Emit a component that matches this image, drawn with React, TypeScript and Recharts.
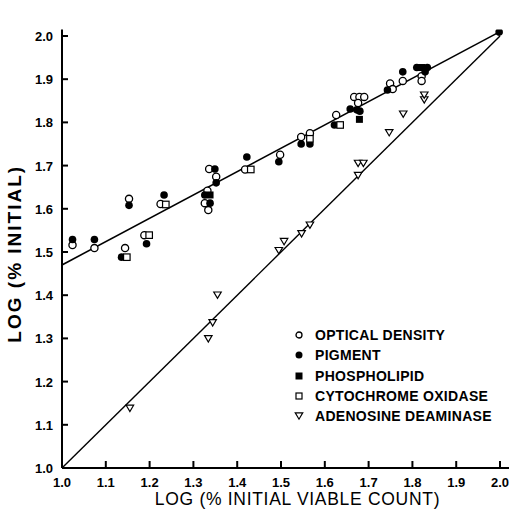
import { ScatterChart, Scatter, XAxis, YAxis, Label } from "recharts";

const xTicks = [1.0, 1.1, 1.2, 1.3, 1.4, 1.5, 1.6, 1.7, 1.8, 1.9, 2.0];
const yTicks = [1.0, 1.1, 1.2, 1.3, 1.4, 1.5, 1.6, 1.7, 1.8, 1.9, 2.0];

const seriesNames = [
  "OPTICAL DENSITY",
  "PIGMENT",
  "PHOSPHOLIPID",
  "CYTOCHROME OXIDASE",
  "ADENOSINE DEAMINASE",
];

const opticalDensity = [
  { x: 1.024, y: 1.516 }, { x: 1.074, y: 1.509 }, { x: 1.144, y: 1.509 },
  { x: 1.153, y: 1.623 }, { x: 1.188, y: 1.539 }, { x: 1.225, y: 1.611 },
  { x: 1.336, y: 1.692 }, { x: 1.352, y: 1.674 }, { x: 1.332, y: 1.642 },
  { x: 1.326, y: 1.613 }, { x: 1.334, y: 1.597 }, { x: 1.418, y: 1.691 },
  { x: 1.498, y: 1.725 }, { x: 1.546, y: 1.766 }, { x: 1.566, y: 1.775 },
  { x: 1.626, y: 1.817 }, { x: 1.667, y: 1.859 }, { x: 1.679, y: 1.859 },
  { x: 1.69, y: 1.859 }, { x: 1.676, y: 1.845 }, { x: 1.749, y: 1.89 },
  { x: 1.755, y: 1.877 }, { x: 1.778, y: 1.896 }, { x: 1.821, y: 1.907 },
  { x: 1.821, y: 1.896 },
];

const pigment = [
  { x: 1.024, y: 1.529 }, { x: 1.074, y: 1.529 }, { x: 1.136, y: 1.488 },
  { x: 1.153, y: 1.608 }, { x: 1.193, y: 1.519 }, { x: 1.233, y: 1.632 },
  { x: 1.349, y: 1.692 }, { x: 1.352, y: 1.66 }, { x: 1.326, y: 1.632 },
  { x: 1.338, y: 1.613 }, { x: 1.422, y: 1.72 }, { x: 1.495, y: 1.709 },
  { x: 1.546, y: 1.75 }, { x: 1.566, y: 1.75 }, { x: 1.622, y: 1.794 },
  { x: 1.658, y: 1.831 }, { x: 1.673, y: 1.829 }, { x: 1.68, y: 1.826 },
  { x: 1.743, y: 1.875 }, { x: 1.778, y: 1.917 }, { x: 1.81, y: 1.927 },
  { x: 1.834, y: 1.927 }, { x: 1.829, y: 1.917 }, { x: 1.998, y: 2.009 },
];

const phospholipid = [
  { x: 1.338, y: 1.632 }, { x: 1.679, y: 1.807 }, { x: 1.821, y: 1.927 },
];

const cytochromeOxidase = [
  { x: 1.148, y: 1.488 }, { x: 1.199, y: 1.539 }, { x: 1.237, y: 1.61 },
  { x: 1.431, y: 1.691 }, { x: 1.566, y: 1.762 }, { x: 1.635, y: 1.794 },
];

const adenosineDeaminase = [
  { x: 1.155, y: 1.138 }, { x: 1.334, y: 1.299 }, { x: 1.344, y: 1.336 },
  { x: 1.355, y: 1.4 }, { x: 1.495, y: 1.503 }, { x: 1.507, y: 1.524 },
  { x: 1.547, y: 1.542 }, { x: 1.566, y: 1.562 }, { x: 1.676, y: 1.677 },
  { x: 1.676, y: 1.705 }, { x: 1.688, y: 1.705 }, { x: 1.747, y: 1.776 },
  { x: 1.779, y: 1.819 }, { x: 1.827, y: 1.852 }, { x: 1.827, y: 1.863 },
];

// fitted lines
const upperFit = [{ x: 1.0, y: 1.47 }, { x: 2.0, y: 2.01 }];
const identityLine = [{ x: 1.0, y: 1.0 }, { x: 2.0, y: 2.0 }];

const FONT = "'Liberation Sans', Arial, sans-serif";
const TICK_MARGIN = 7;

function openCircle(p: any, r = 3.6) {
  return <circle cx={p.cx} cy={p.cy} r={r} fill="#fff" stroke="#000" strokeWidth={1.3} />;
}
function filledCircle(p: any, r = 3.8) {
  return <circle cx={p.cx} cy={p.cy} r={r} fill="#000" />;
}
function filledSquare(p: any, s = 7) {
  return <rect x={p.cx - s / 2} y={p.cy - s / 2} width={s} height={s} fill="#000" />;
}
function openSquare(p: any, s = 6.5) {
  return (
    <rect x={p.cx - s / 2} y={p.cy - s / 2} width={s} height={s} fill="#fff" stroke="#000" strokeWidth={1.2} />
  );
}
function downTriangle(p: any, w = 7.5) {
  const h = w * 0.85;
  const pts = `${p.cx - w / 2},${p.cy - h / 2} ${p.cx + w / 2},${p.cy - h / 2} ${p.cx},${p.cy + h / 2}`;
  return <polygon points={pts} fill="#fff" stroke="#000" strokeWidth={1.2} />;
}

const markerByName: Record<string, (p: any) => any> = {
  "OPTICAL DENSITY": (p) => openCircle(p, 3),
  PIGMENT: (p) => filledCircle(p, 3.5),
  PHOSPHOLIPID: (p) => filledSquare(p, 7),
  "CYTOCHROME OXIDASE": (p) => openSquare(p, 6),
  "ADENOSINE DEAMINASE": (p) => downTriangle(p, 7.5),
};

function XTick({ x, y, payload }: any) {
  return (
    <g>
      <line x1={x} x2={x} y1={y - TICK_MARGIN} y2={y - TICK_MARGIN - 7} stroke="#000" strokeWidth={2} />
      <text x={x} y={y + 12} textAnchor="middle" fontFamily={FONT} fontWeight="bold" fontSize={13} fill="#000">
        {Number(payload.value).toFixed(1)}
      </text>
    </g>
  );
}

function YTick({ x, y, payload }: any) {
  return (
    <g>
      <line x1={x + TICK_MARGIN} x2={x + TICK_MARGIN + 6} y1={y} y2={y} stroke="#000" strokeWidth={2} />
      <text x={x - 2} y={y + 5} textAnchor="end" fontFamily={FONT} fontWeight="bold" fontSize={13} fill="#000">
        {Number(payload.value).toFixed(1)}
      </text>
    </g>
  );
}

// legend drawn over the plot, lower right
function LegendBox() {
  return (
    <div
      style={{
        position: "absolute",
        left: 292,
        top: 325,
        fontFamily: FONT,
        fontWeight: "bold",
        fontSize: 14,
        color: "#000",
      }}
    >
      {seriesNames.map((name) => (
        <div key={name} style={{ display: "flex", alignItems: "center", height: 20.3 }}>
          <svg width={14} height={14} style={{ marginRight: 9 }}>
            {markerByName[name]({ cx: 7, cy: 7 })}
          </svg>
          <span style={{ letterSpacing: 0.3, whiteSpace: "nowrap" }}>{name}</span>
        </div>
      ))}
    </div>
  );
}

export default function App() {
  return (
    <div style={{ position: "absolute", left: 0, top: 0, width: 515, height: 513, background: "#fff" }}>
      <ScatterChart width={515} height={513} margin={{ top: 29.5, right: 6, bottom: 0, left: 0 }}>
        <XAxis
          type="number"
          dataKey="x"
          domain={[1, 2.0205]}
          ticks={xTicks}
          height={45}
          tickSize={0}
          tickMargin={TICK_MARGIN}
          tickLine={false}
          axisLine={{ stroke: "#000", strokeWidth: 2 }}
          tick={<XTick />}
          allowDataOverflow
        >
          <Label
            content={({ viewBox }: any) => (
              <text
                x={viewBox.x + viewBox.width / 2 + 12}
                y={viewBox.y + 37}
                textAnchor="middle"
                fontFamily={FONT}
                fontSize={17.5}
                letterSpacing={0.7}
                fill="#000"
              >
                LOG (% INITIAL VIABLE COUNT)
              </text>
            )}
          />
        </XAxis>
        <YAxis
          type="number"
          dataKey="y"
          domain={[1, 2.015]}
          ticks={yTicks}
          width={62}
          tickSize={0}
          tickMargin={TICK_MARGIN}
          tickLine={false}
          axisLine={{ stroke: "#000", strokeWidth: 2 }}
          tick={<YTick />}
          allowDataOverflow
        >
          <Label
            content={({ viewBox }: any) => (
              <text
                transform={`translate(${viewBox.x + 21}, ${viewBox.y + viewBox.height / 2 + 5}) rotate(-90)`}
                textAnchor="middle"
                fontFamily={FONT}
                fontWeight="bold"
                fontSize={19}
                letterSpacing={2}
                fill="#000"
              >
                LOG (% INITIAL)
              </text>
            )}
          />
        </YAxis>
        <Scatter
          data={identityLine}
          line={{ stroke: "#000", strokeWidth: 1.4 }}
          shape={() => <g />}
          legendType="none"
          isAnimationActive={false}
        />
        <Scatter
          data={upperFit}
          line={{ stroke: "#000", strokeWidth: 1.6 }}
          shape={() => <g />}
          legendType="none"
          isAnimationActive={false}
        />
        <Scatter name="OPTICAL DENSITY" data={opticalDensity} shape={(p: any) => openCircle(p)} isAnimationActive={false} />
        <Scatter name="PIGMENT" data={pigment} shape={(p: any) => filledCircle(p)} isAnimationActive={false} />
        <Scatter name="PHOSPHOLIPID" data={phospholipid} shape={(p: any) => filledSquare(p)} isAnimationActive={false} />
        <Scatter name="CYTOCHROME OXIDASE" data={cytochromeOxidase} shape={(p: any) => openSquare(p)} isAnimationActive={false} />
        <Scatter name="ADENOSINE DEAMINASE" data={adenosineDeaminase} shape={(p: any) => downTriangle(p)} isAnimationActive={false} />
      </ScatterChart>
      <LegendBox />
    </div>
  );
}
